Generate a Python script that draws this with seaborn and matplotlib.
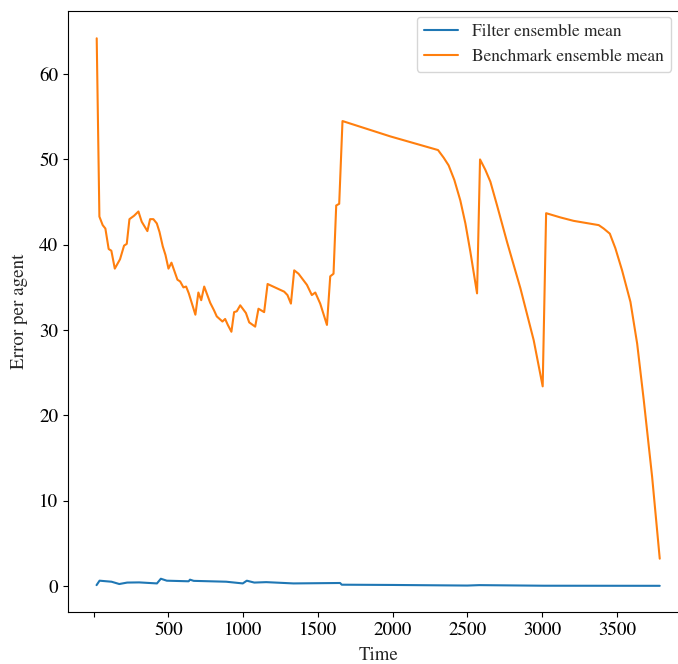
import matplotlib
matplotlib.use("Agg")
import matplotlib.pyplot as plt
import seaborn as sns
import pandas as pd

# ---- data ----
filter_time = [20, 40, 120, 172, 225, 305, 424, 450, 490, 636, 645, 670, 887,
               998, 1025, 1075, 1155, 1337, 1649, 1660, 2000, 2500, 2580, 3012, 3787]
filter_err = [0.1, 0.62, 0.5, 0.23, 0.4, 0.42, 0.3, 0.85, 0.62, 0.55, 0.74, 0.6, 0.5,
              0.3, 0.62, 0.4, 0.45, 0.3, 0.35, 0.15, 0.12, 0.05, 0.1, 0.03, 0.02]

bench_time = [21, 39, 61, 79, 101, 119, 142, 177, 204, 222, 240, 271, 300, 322, 360,
              378, 400, 423, 441, 463, 481, 501, 521, 561, 579, 601, 619, 637, 681,
              701, 720, 740, 780, 806, 824, 862, 880, 898, 922, 940, 958, 981, 1019,
              1041, 1081, 1103, 1141, 1164, 1275, 1297, 1320, 1342, 1371, 1427, 1460,
              1483, 1516, 1561, 1583, 1605, 1623, 1643, 1665, 1985, 2304, 2342, 2375,
              2413, 2453, 2487, 2520, 2565, 2585, 2620, 2654, 2699, 2766, 2855, 2944,
              3004, 3027, 3123, 3211, 3379, 3412, 3453, 3490, 3535, 3591, 3636, 3680,
              3736, 3787]
bench_err = [64.2, 43.3, 42.3, 41.9, 39.5, 39.3, 37.2, 38.3, 39.9, 40.1, 43.0, 43.4,
             43.9, 42.7, 41.6, 43.0, 43.0, 42.5, 41.5, 39.8, 38.8, 37.2, 37.9, 35.9,
             35.7, 35.0, 35.1, 34.3, 31.8, 34.4, 33.5, 35.1, 33.2, 32.3, 31.6, 31.0,
             31.3, 30.6, 29.8, 32.1, 32.2, 32.9, 32.0, 30.9, 30.4, 32.5, 32.1, 35.4,
             34.5, 34.1, 33.1, 37.0, 36.6, 35.3, 34.1, 34.4, 33.1, 30.6, 36.3, 36.6,
             44.6, 44.8, 54.5, 52.7, 51.1, 50.2, 49.3, 47.6, 45.2, 42.5, 39.2, 34.3,
             50.0, 48.8, 47.4, 44.6, 40.3, 34.9, 28.8, 23.4, 43.7, 43.2, 42.8, 42.3,
             41.9, 41.3, 39.6, 37.0, 33.3, 28.4, 21.8, 12.8, 3.2]

xtick_values = [0, 500, 1000, 1500, 2000, 2500, 3000, 3500]
xtick_labels = ["", "500", "1000", "1500", "2000", "2500", "3000", "3500"]
ytick_values = [0, 10, 20, 30, 40, 50, 60]

filter_df = pd.DataFrame({"Time": filter_time, "Error": filter_err})
bench_df = pd.DataFrame({"Time": bench_time, "Error": bench_err})

# ---- style ----
sns.set_style("ticks")
plt.rcParams["font.family"] = ["STIXGeneral", "DejaVu Serif"]
plt.rcParams["mathtext.fontset"] = "stix"

W, H = 678, 664
fig = plt.figure(figsize=(W / 100, H / 100), dpi=100)
ax = fig.add_axes([68 / W, 1 - 612 / H, (688 - 68) / W, (612 - 11) / H])

sns.lineplot(data=filter_df, x="Time", y="Error", ax=ax, color="#1f77b4",
             linewidth=1.5, label="Filter ensemble mean")
sns.lineplot(data=bench_df, x="Time", y="Error", ax=ax, color="#ff7f0e",
             linewidth=1.5, label="Benchmark ensemble mean")

ax.set_xlim(-171, 3976)
ax.set_ylim(-3.05, 67.4)
ax.set_xticks(xtick_values)
ax.set_xticklabels(xtick_labels)
ax.set_yticks(ytick_values)
ax.tick_params(labelsize=13.7, color="black", labelcolor="black")
for s in ax.spines.values():
    s.set_color("black")
ax.set_xlabel("Time", fontsize=13.5, labelpad=5.5)
ax.set_ylabel("Error per agent", fontsize=13.7, labelpad=8)

ax.legend(loc="upper right", bbox_to_anchor=(671 / W, 1 - 17 / H),
          bbox_transform=fig.transFigure, borderaxespad=0, fontsize=12.5,
          frameon=True)

fig.savefig("out.png", dpi=100)
